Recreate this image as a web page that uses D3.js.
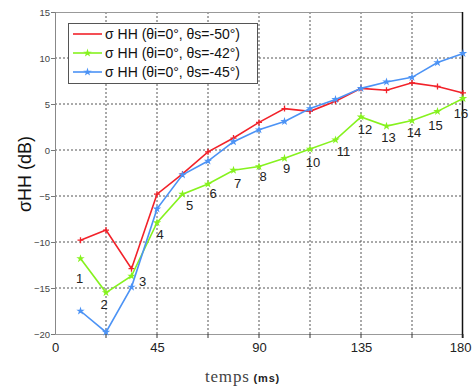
<!DOCTYPE html>
<html><head><meta charset="utf-8">
<script src="https://cdn.jsdelivr.net/npm/d3@7"></script>
<style>body{margin:0;background:#fff}svg{display:block}</style>
</head><body>
<script>
const times = [11.25,22.5,33.75,45,56.25,67.5,78.75,90,101.25,112.5,123.75,135,146.25,157.5,168.75,180];
const red50 = [-9.8,-8.7,-12.9,-4.8,-2.6,-0.2,1.3,3.0,4.5,4.2,5.3,6.7,6.5,7.3,6.9,6.2];
const green42 = [-11.8,-15.5,-13.7,-7.9,-4.8,-3.7,-2.2,-1.8,-0.9,0.1,1.1,3.6,2.6,3.2,4.2,5.6];
const blue45 = [-17.5,-19.8,-14.9,-6.4,-2.7,-1.2,0.9,2.2,3.1,4.5,5.5,6.7,7.4,7.9,9.5,10.5];
const pointLabels = ["1","2","3","4","5","6","7","8","9","10","11","12","13","14","15","16"];
const xTickLabels = [0,45,90,135,180];
const xGrid = [22.5,45,67.5,90,112.5,135,157.5];
const yTicks = [-20,-15,-10,-5,0,5,10,15];
const legendLabels = ["σ HH (θi=0°, θs=-50°)","σ HH (θi=0°, θs=-42°)","σ HH (θi=0°, θs=-45°)"];
const labelOffsets = [[-1,20],[-2,12],[11,5],[3,12],[7,11],[5,9],[4,13],[4,10],[2,10],[3,13],[8,12],[4,13],[2,11],[2,12],[-2,14],[-2,15]];

const W=472,H=392;
const L=55,R=463,T=12,B=334;
const svg=d3.select("body").append("svg").attr("width",W).attr("height",H);
const x=d3.scaleLinear().domain([0,180]).range([L,R]);
const y=d3.scaleLinear().domain([-20,15]).range([B,T]);

// grid
const g=svg.append("g");
g.selectAll(".vg").data(xGrid).join("line")
 .attr("x1",d=>x(d)).attr("x2",d=>x(d)).attr("y1",T).attr("y2",B)
 .attr("stroke","#555").attr("stroke-dasharray","2,2").attr("stroke-width",1);
g.selectAll(".hg").data(yTicks.filter(v=>v>-20&&v<15)).join("line")
 .attr("x1",L).attr("x2",R).attr("y1",d=>y(d)).attr("y2",d=>y(d))
 .attr("stroke","#555").attr("stroke-dasharray","2,2").attr("stroke-width",1);

// frame
svg.append("line").attr("x1",L).attr("x2",R).attr("y1",T+0.5).attr("y2",T+0.5).attr("stroke","#999");
svg.append("line").attr("x1",L+0.5).attr("x2",L+0.5).attr("y1",T).attr("y2",B).attr("stroke","#888");
svg.append("line").attr("x1",L).attr("x2",R).attr("y1",B+0.5).attr("y2",B+0.5).attr("stroke","#999");
svg.append("line").attr("x1",R-0.5).attr("x2",R-0.5).attr("y1",T).attr("y2",B+4).attr("stroke","#111").attr("stroke-width",1.5);

// axes ticks & labels
const ya=d3.axisLeft(y).tickValues(yTicks).tickSize(4).tickFormat(d3.format("d"));
const yg=svg.append("g").attr("transform",`translate(${L},0)`).call(ya);
yg.select(".domain").remove();
yg.selectAll("line").attr("stroke","#777");
yg.selectAll("text").attr("font-family","Liberation Sans, Arial, sans-serif").attr("font-size",9.5).attr("fill","#444").attr("x",-5);

const xa=d3.axisBottom(x).tickValues(xTickLabels).tickSize(0).tickPadding(9).tickFormat(d3.format("d"));
const xg=svg.append("g").attr("transform",`translate(0,${B})`).call(xa);
xg.select(".domain").remove();
xg.selectAll("text").attr("font-family","Liberation Sans, Arial, sans-serif").attr("font-size",13).attr("fill","#222");
xg.selectAll(".tick").filter(d=>d===180).select("text").attr("text-anchor","end").attr("x",W-1-x(180));
svg.selectAll(".xt").data(xGrid.concat([180])).join("line")
 .attr("x1",d=>x(d)).attr("x2",d=>x(d)).attr("y1",B).attr("y2",B+4).attr("stroke","#333");

// titles
const xt=svg.append("text").attr("x",205).attr("y",382).attr("text-anchor","start");
xt.append("tspan").text("temps").attr("font-family","Liberation Serif, Times New Roman, serif").attr("font-size",17).attr("letter-spacing",0.8).attr("fill","#444");
xt.append("tspan").attr("dx",4).text("(ms)").attr("font-family","Liberation Sans, Arial, sans-serif").attr("font-size",11).attr("font-weight","bold").attr("letter-spacing",0.8).attr("fill","#222");
svg.append("text").attr("transform","translate(31,174) rotate(-90)").attr("text-anchor","middle")
 .attr("font-family","Liberation Sans, Arial, sans-serif").attr("font-size",18).attr("fill","#111").text("σHH (dB)");

// series
const series=[
 {vals:red50,color:"#f2222a",marker:"plus"},
 {vals:green42,color:"#86f21e",marker:"star"},
 {vals:blue45,color:"#4c93f5",marker:"star"}
];
const line=d3.line().x((d,i)=>x(times[i])).y(d=>y(d));
function drawMarker(sel,type,color){
  if(type==="plus"){
    sel.append("path").attr("d","M-3,0H3M0,-3V3").attr("stroke",color).attr("stroke-width",1.3);
  } else {
    sel.append("path").attr("d",d3.symbol(d3.symbolStar,22)()).attr("fill",color);
  }
}
series.forEach(s=>{
  svg.append("path").datum(s.vals).attr("d",line).attr("fill","none").attr("stroke",s.color).attr("stroke-width",1.6);
  s.vals.forEach((v,i)=>{
    const m=svg.append("g").attr("transform",`translate(${x(times[i])},${y(v)})`);
    drawMarker(m,s.marker,s.color);
  });
});

// point labels
svg.selectAll(".pl").data(pointLabels).join("text")
 .attr("x",(d,i)=>x(times[i])+labelOffsets[i][0])
 .attr("y",(d,i)=>y(green42[i])+labelOffsets[i][1])
 .attr("dy","0.35em").attr("text-anchor","middle")
 .attr("font-family","Liberation Sans, Arial, sans-serif").attr("font-size",13).attr("fill","#222").text(d=>d);

// legend
const lg=svg.append("g");
lg.append("rect").attr("x",68.5).attr("y",23.5).attr("width",189).attr("height",60).attr("fill","#fff").attr("stroke","#555");
legendLabels.forEach((t,i)=>{
  const yy=34+i*19;
  lg.append("line").attr("x1",73).attr("x2",102).attr("y1",yy).attr("y2",yy).attr("stroke",series[i].color).attr("stroke-width",1.6);
  const m=lg.append("g").attr("transform",`translate(87.5,${yy})`);
  if(i>0) drawMarker(m,series[i].marker,series[i].color);
  lg.append("text").attr("x",105).attr("y",yy).attr("dy","0.35em").attr("font-family","Liberation Sans, Arial, sans-serif").attr("font-size",14).attr("fill","#111").text(t);
});
</script>
</body></html>
